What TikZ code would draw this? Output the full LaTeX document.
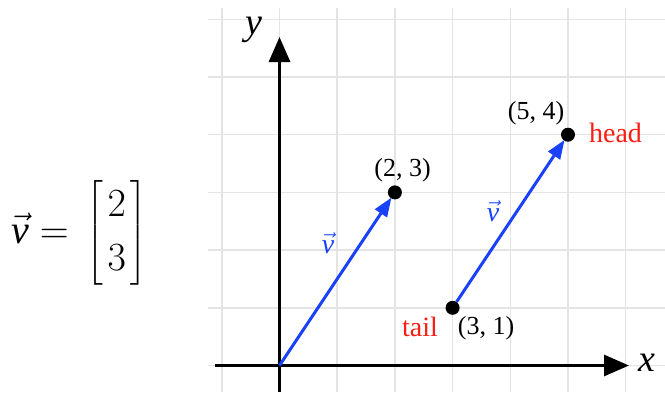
\RequirePackage{fix-cm}
\documentclass[tikz,border=0pt]{standalone}
\usepackage{amsmath}
\usepackage{fontspec}
\setmainfont{Liberation Serif}
\usetikzlibrary{arrows.meta}
\definecolor{gridgray}{RGB}{228,228,228}
\definecolor{vecblue}{RGB}{25,65,250}
\definecolor{lblred}{RGB}{250,30,20}
\tikzset{
  gridline/.style={draw=gridgray, line width=1.5pt},
  axis/.style={draw=black, line width=3pt, -{Triangle[length=25pt,width=21pt]}},
  vecarrow/.style={draw=vecblue, line width=3pt, -{Triangle[length=19pt,width=14pt]}, shorten >=-1pt},
  dot/.style={circle, fill=black, inner sep=0pt, minimum size=14pt},
  coordlbl/.style={font=\fontsize{26}{28}\selectfont, inner sep=1pt},
  redlbl/.style={font=\fontsize{28}{30}\selectfont, text=lblred, inner sep=1pt},
  veclbl/.style={font=\fontsize{28}{30}\selectfont, text=vecblue, inner sep=0pt},
  axlbl/.style={font=\fontsize{38}{40}\selectfont\itshape, inner sep=0pt}
}
\begin{document}
\begin{tikzpicture}[x=1pt, y=-1pt]
\useasboundingbox (0,0) rectangle (665,392);
% grid
\foreach \k in {-1,...,6} {
  \draw[gridline] ({279.5+\k*57.7},8) -- ({279.5+\k*57.7},392);
}
\foreach \k in {0,...,6} {
  \draw[gridline] (208,{365.5-\k*57.7}) -- (665,{365.5-\k*57.7});
}
% axes
\coordinate (O) at (279.5,365.5);
\coordinate (xs) at (215,365.5);
\coordinate (xe) at (629,365.5);
\coordinate (ys) at (279.5,392);
\coordinate (ye) at (279.5,37);
\draw[axis] (xs) -- (xe);
\draw[axis] (ys) -- (ye);
\node[axlbl] (xl) at (647,363) {x};
\node[axlbl] (yl) at (254,30) {y};
% points
\node[dot] (P23) at (394.9,192.4) {};
\node[dot] (P31) at (452.6,307.8) {};
\node[dot] (P54) at (568,134.7) {};
% vectors
\draw[vecarrow] (O) -- (P23);
\draw[vecarrow] (P31) -- (P54);
% labels
\node[coordlbl] (l23) at (402.5,170) {(2, 3)};
\node[coordlbl] (l54) at (536,113) {(5, 4)};
\node[coordlbl] (l31) at (486,328) {(3, 1)};
\node[redlbl] (tail) at (420,327) {tail};
\node[redlbl] (head) at (615.5,133) {head};
\node[veclbl] (v1) at (328,243) {$\vec{\text{\itshape v}}$};
\node[veclbl] (v2) at (493,211) {$\vec{\text{\itshape v}}$};
% equation
\node[font=\fontsize{40}{54}\selectfont, inner sep=0pt] (eq) at (79,233)
  {$\vec{\text{\itshape v}} = \mkern3mu\left[\mkern2mu\begin{matrix}2\\3\end{matrix}\mkern2mu\right]$};
\end{tikzpicture}
\end{document}
